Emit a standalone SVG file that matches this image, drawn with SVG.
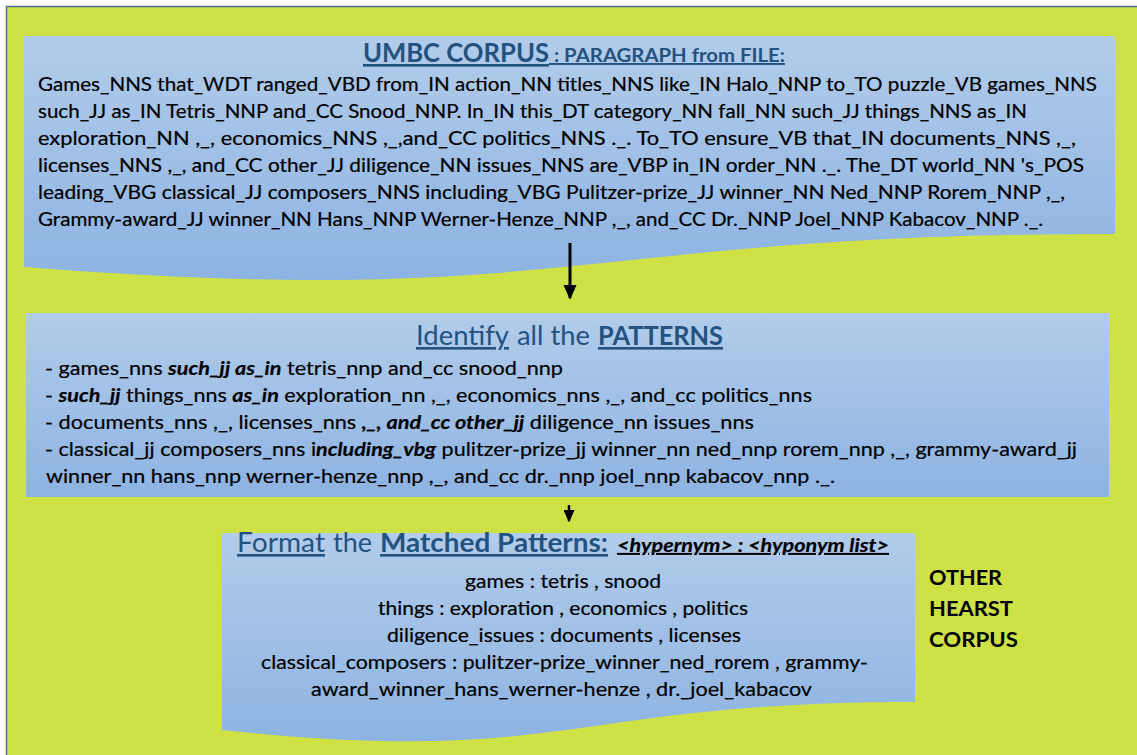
<svg xmlns="http://www.w3.org/2000/svg" width="1137" height="755" viewBox="0 0 1137 755">
  <defs>
    <linearGradient id="boxFill" x1="0" y1="0" x2="0" y2="1">
      <stop offset="0" stop-color="#B2CCEA"/>
      <stop offset="1" stop-color="#8DB3E2"/>
    </linearGradient>
    <marker id="head" markerWidth="5" markerHeight="4.4" refX="4.4" refY="2.2" orient="auto" markerUnits="strokeWidth">
      <path d="M0,0 L5,2.2 L0,4.4 Z" fill="#000"/>
    </marker>
    <style>
      .box { fill: url(#boxFill); }
      .body { font-family: Lato, "Open Sans", sans-serif; font-size: 18.5px; fill: #000; stroke: #000; stroke-width: 0.2px; }
      .bi { font-weight: bold; font-style: italic; }
      .ttl { font-family: Lato, "Open Sans", sans-serif; fill: #24527F; }
      .ul { text-decoration: underline; }
      .side { font-family: Lato, "Open Sans", sans-serif; font-size: 21px; font-weight: bold; fill: #000; }
      .conn { stroke: #000; fill: none; }
    </style>
  </defs>

  <!-- page -->
  <rect x="0" y="0" width="1137" height="755" fill="#FFFFFF"/>
  <rect x="6.5" y="6.5" width="1140" height="760" fill="#CFE245" stroke="#4F6F94" stroke-width="1.5"/>

  <!-- source paragraph -->
  <g id="node-corpus">
    <path class="box" d="M24,36 H1115 V234 C569.5,234 569.5,309.5 24,267 Z"/>
    <text class="ttl ul" x="363" y="62" font-weight="bold" font-size="26" textLength="186" lengthAdjust="spacingAndGlyphs">UMBC CORPUS</text>
    <text class="ttl ul" x="549" y="62" font-weight="bold" font-size="19" textLength="236" lengthAdjust="spacingAndGlyphs" xml:space="preserve"> : PARAGRAPH from FILE:</text>
    <text class="body" x="38" y="91" textLength="1059" lengthAdjust="spacingAndGlyphs">Games_NNS that_WDT ranged_VBD from_IN action_NN titles_NNS like_IN Halo_NNP to_TO puzzle_VB games_NNS</text>
    <text class="body" x="38" y="118" textLength="989" lengthAdjust="spacingAndGlyphs">such_JJ as_IN Tetris_NNP and_CC Snood_NNP. In_IN this_DT category_NN fall_NN such_JJ things_NNS as_IN</text>
    <text class="body" x="38" y="145" textLength="1038" lengthAdjust="spacingAndGlyphs">exploration_NN ,_, economics_NNS ,_,and_CC politics_NNS ._. To_TO ensure_VB that_IN documents_NNS ,_,</text>
    <text class="body" x="38" y="172" textLength="1046" lengthAdjust="spacingAndGlyphs">licenses_NNS ,_, and_CC other_JJ diligence_NN issues_NNS are_VBP in_IN order_NN ._. The_DT world_NN 's_POS</text>
    <text class="body" x="38" y="199" textLength="1027" lengthAdjust="spacingAndGlyphs">leading_VBG classical_JJ composers_NNS including_VBG Pulitzer-prize_JJ winner_NN Ned_NNP Rorem_NNP ,_,</text>
    <text class="body" x="38" y="226" textLength="1005" lengthAdjust="spacingAndGlyphs">Grammy-award_JJ winner_NN Hans_NNP Werner-Henze_NNP ,_, and_CC Dr._NNP Joel_NNP Kabacov_NNP ._.</text>
  </g>

  <!-- pattern identification -->
  <g id="node-patterns">
    <rect class="box" x="26" y="313" width="1083" height="184"/>
    <text class="ttl ul" x="416" y="345" font-size="26" textLength="93" lengthAdjust="spacingAndGlyphs">Identify</text>
    <text class="ttl" x="517" y="345" font-size="26" textLength="73" lengthAdjust="spacingAndGlyphs">all the</text>
    <text class="ttl ul" x="598" y="345" font-size="26" font-weight="bold" textLength="125" lengthAdjust="spacingAndGlyphs">PATTERNS</text>
    <text class="body" x="45" y="375" textLength="518" lengthAdjust="spacingAndGlyphs">- games_nns <tspan class="bi">such_jj as_in</tspan> tetris_nnp and_cc snood_nnp</text>
    <text class="body" x="45" y="402" textLength="767" lengthAdjust="spacingAndGlyphs">- <tspan class="bi">such_jj</tspan> things_nns <tspan class="bi">as_in</tspan> exploration_nn ,_, economics_nns ,_, and_cc politics_nns</text>
    <text class="body" x="45" y="429" textLength="709" lengthAdjust="spacingAndGlyphs">- documents_nns ,_, licenses_nns <tspan class="bi">,_, and_cc other_jj</tspan> diligence_nn issues_nns</text>
    <text class="body" x="45" y="456" textLength="1032" lengthAdjust="spacingAndGlyphs">- classical_jj composers_nns i<tspan class="bi">ncluding_vbg</tspan> pulitzer-prize_jj winner_nn ned_nnp rorem_nnp ,_, grammy-award_jj</text>
    <text class="body" x="46" y="483" textLength="789" lengthAdjust="spacingAndGlyphs">winner_nn hans_nnp werner-henze_nnp ,_, and_cc dr._nnp joel_nnp kabacov_nnp ._.</text>
  </g>

  <!-- formatted output -->
  <g id="node-format">
    <path class="box" d="M222,533 H915 V702 C568.5,702 568.5,766.7 222,730 Z"/>
    <text class="ttl ul" x="237" y="552" font-size="26" textLength="88" lengthAdjust="spacingAndGlyphs">Format</text>
    <text class="ttl" x="333" y="552" font-size="26" textLength="39" lengthAdjust="spacingAndGlyphs">the</text>
    <text class="ttl ul" x="380" y="552" font-size="26" font-weight="bold" textLength="228" lengthAdjust="spacingAndGlyphs">Matched Patterns:</text>
    <text class="body bi ul" x="617" y="552" font-size="17" textLength="272" lengthAdjust="spacingAndGlyphs">&lt;hypernym&gt; : &lt;hyponym list&gt;</text>
    <text class="body" x="465" y="588" textLength="196" lengthAdjust="spacingAndGlyphs">games : tetris , snood</text>
    <text class="body" x="378" y="615" textLength="370" lengthAdjust="spacingAndGlyphs">things : exploration , economics , politics</text>
    <text class="body" x="387" y="642" textLength="354" lengthAdjust="spacingAndGlyphs">diligence_issues : documents , licenses</text>
    <text class="body" x="261" y="669" textLength="607" lengthAdjust="spacingAndGlyphs">classical_composers : pulitzer-prize_winner_ned_rorem , grammy-</text>
    <text class="body" x="311" y="696" textLength="501" lengthAdjust="spacingAndGlyphs">award_winner_hans_werner-henze , dr._joel_kabacov</text>
  </g>

  <!-- side label -->
  <g id="node-hearst">
    <text class="side" x="929" y="585" textLength="73" lengthAdjust="spacingAndGlyphs">OTHER</text>
    <text class="side" x="929" y="616" textLength="84" lengthAdjust="spacingAndGlyphs">HEARST</text>
    <text class="side" x="929" y="647" textLength="89" lengthAdjust="spacingAndGlyphs">CORPUS</text>
  </g>

  <!-- connectors -->
  <g id="connectors">
    <line class="conn" x1="570" y1="243" x2="570" y2="298" stroke-width="3" marker-end="url(#head)"/>
    <line class="conn" x1="569" y1="505" x2="569" y2="521" stroke-width="2.5" marker-end="url(#head)"/>
  </g>
</svg>
